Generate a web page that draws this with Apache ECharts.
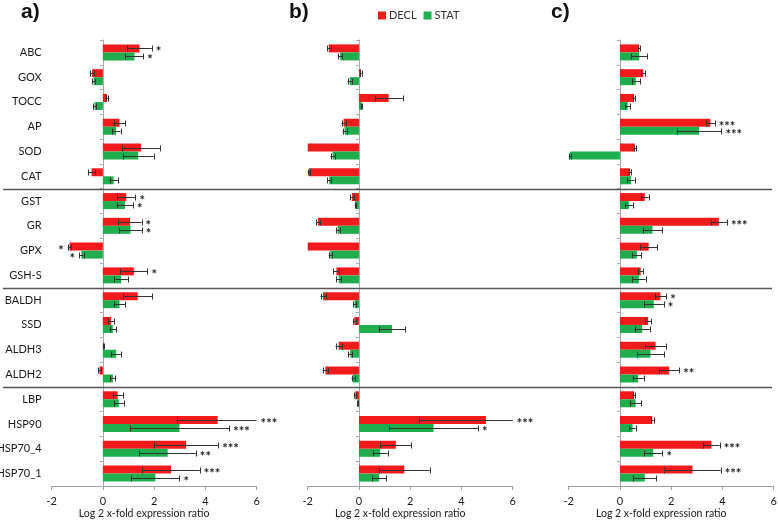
<!DOCTYPE html>
<html><head><meta charset="utf-8">
<script src="https://cdn.jsdelivr.net/npm/echarts@6/dist/echarts.min.js"></script>
<style>html,body{margin:0;padding:0;background:#fff}#c{width:778px;height:522px}</style>
</head><body><div id="c"></div>
<script>
const genes = ['ABC','GOX','TOCC','AP','SOD','CAT','GST','GR','GPX','GSH-S','BALDH','SSD','ALDH3','ALDH2','LBP','HSP90','HSP70_4','HSP70_1'];
const panelLabels = ['a)','b)','c)'];
const seriesNames = ['DECL','STAT'];
const axisTitle = 'Log 2 x-fold expression ratio';

// Panel a
const declA      = [1.43,-0.42,0.16,0.65,1.49,-0.44,0.91,1.06,-1.30,1.21,1.36,0.32,0.02,-0.13,0.58,4.48,3.25,2.66];
const declAErr   = [0.48,0.08,0.05,0.23,0.75,0.13,0.36,0.45,0.07,0.53,0.56,0.13,0.02,0.05,0.20,1.60,1.25,1.12];
const declAStars = ['*','','','','','','*','*','*','*','','','','','','***','***','***'];
const statA      = [1.23,-0.36,-0.32,0.52,1.38,0.42,0.86,1.08,-0.84,0.71,0.65,0.39,0.52,0.39,0.62,2.99,2.53,2.05];
const statAErr   = [0.35,0.05,0.07,0.17,0.60,0.16,0.32,0.44,0.09,0.27,0.23,0.13,0.19,0.10,0.20,1.94,1.10,0.94];
const statAStars = ['*','','','','','','*','*','*','','','','','','','***','**','*'];

// Panel b
const declB      = [-1.18,0.08,1.16,-0.60,-2.10,-1.95,-0.27,-1.60,-2.10,-0.88,-1.40,-0.18,-0.79,-1.31,-0.14,4.96,1.44,1.77];
const declBErr   = [0.07,0.03,0.55,0.08,0.10,0.05,0.06,0.07,0.10,0.12,0.10,0.05,0.12,0.10,0.04,2.60,0.60,0.99];
const declBStars = ['','','','','','','','','','','','','','','','***','',''];
const statB      = [-0.73,-0.36,0.10,-0.56,-1.03,-1.16,-0.14,-0.83,-1.12,-0.79,-0.17,1.29,-0.34,-0.23,-0.05,2.91,0.83,0.79];
const statBErr   = [0.08,0.08,0.03,0.08,0.08,0.08,0.03,0.08,0.06,0.10,0.05,0.52,0.07,0.06,0.02,1.74,0.30,0.27];
const statBStars = ['','','','','','','','','','','','','','','','*','',''];

// Panel c
const declC      = [0.75,0.91,0.55,3.53,0.58,0.39,0.97,3.86,1.12,0.81,1.58,1.10,1.39,1.92,0.55,1.26,3.57,2.83];
const declCErr   = [0.05,0.08,0.05,0.17,0.05,0.05,0.16,0.32,0.34,0.10,0.23,0.12,0.40,0.39,0.05,0.05,0.32,1.10];
const declCStars = ['','','','***','','','','***','','','*','','','**','','','***','***'];
const statC      = [0.75,0.62,0.30,3.09,-1.95,0.43,0.35,1.27,0.66,0.74,1.32,0.87,1.19,0.71,0.61,0.49,1.30,0.97];
const statCErr   = [0.31,0.16,0.10,0.87,0.05,0.14,0.17,0.38,0.18,0.26,0.39,0.30,0.52,0.22,0.23,0.12,0.36,0.45];
const statCStars = ['','','','***','','','','','','','*','','','','','','*',''];

const xMin = -2, xMax = 6, xStep = 2;
const RED = '#f21b1b', GREEN = '#20ad4e';
const FONT = 'Lato';
const BARW = 8;

const panels = [
  {decl: declA, declErr: declAErr, declStars: declAStars, stat: statA, statErr: statAErr, statStars: statAStars},
  {decl: declB, declErr: declBErr, declStars: declBStars, stat: statB, statErr: statBErr, statStars: statBStars},
  {decl: declC, declErr: declCErr, declStars: declCStars, stat: statC, statErr: statCErr, statStars: statCStars}
];
const gridLefts = [51.6, 307.7, 568.7];
const gridWidth = 205;

const chart = echarts.init(document.getElementById('c'), null, {renderer: 'canvas'});

function errSeries(k, vals, errs, stars, side) {
  return {
    type: 'custom', xAxisIndex: k, yAxisIndex: 2 * k, clip: false, silent: true, z: 5,
    data: vals.map((v, i) => [i, v, errs[i]]),
    encode: {x: 1, y: 0},
    renderItem(params, api) {
      const i = api.value(0), v = api.value(1), e = api.value(2);
      const off = side === 0 ? -BARW / 2 : BARW / 2;
      const y = Math.round(api.coord([0, i])[1] + off) + 0.5;
      const lo = v - e, hi = v + e;
      const loC = Math.max(lo, xMin), hiC = Math.min(hi, xMax);
      const children = [];
      const plo = api.coord([loC, i])[0], phi = api.coord([hiC, i])[0];
      const ls = {stroke: '#333', lineWidth: 1};
      if (hiC > loC) {
        children.push({type: 'line', shape: {x1: plo, y1: y, x2: phi, y2: y}, style: ls});
        if (lo >= xMin) children.push({type: 'line', shape: {x1: Math.round(plo) + 0.5, y1: y - 3, x2: Math.round(plo) + 0.5, y2: y + 3}, style: ls});
        if (hi <= xMax) children.push({type: 'line', shape: {x1: Math.round(phi) + 0.5, y1: y - 3, x2: Math.round(phi) + 0.5, y2: y + 3}, style: ls});
      }
      const st = stars[params.dataIndex];
      if (st) {
        const pos = v >= 0;
        children.push({type: 'text', x: pos ? phi + 4 : plo - 4, y: y + 3,
          style: {text: st, fill: '#222', font: 'bold 13px ' + FONT, align: pos ? 'left' : 'right', verticalAlign: 'middle'}});
      }
      return {type: 'group', children};
    }
  };
}

const grid = [], xAxis = [], yAxis = [], series = [], title = [];
panels.forEach((p, k) => {
  grid.push({left: gridLefts[k], width: gridWidth, top: 40, bottom: 36, containLabel: false, outerBoundsMode: 'none'});
  title.push({text: panelLabels[k], left: [21, 289, 551][k], top: 2, padding: 0,
    textStyle: {fontSize: 21, fontWeight: 'bold', color: '#111', fontFamily: 'Liberation Sans'}});
  xAxis.push({type: 'value', gridIndex: k, min: xMin, max: xMax, interval: xStep,
    axisLine: {show: true, onZero: false, lineStyle: {color: '#a0a0a0'}},
    axisTick: {show: true, length: 4, lineStyle: {color: '#a0a0a0'}},
    splitLine: {show: false},
    axisLabel: {fontSize: 11, color: '#1a1a1a', margin: 10, fontFamily: FONT},
    name: axisTitle, nameLocation: 'middle', nameGap: 22, nameMoveOverlap: false,
    nameTextStyle: {fontSize: 10.5, color: '#1a1a1a', fontFamily: FONT, padding: [0, 20, 0, 0]}});
  yAxis.push({type: 'category', gridIndex: k, data: genes, inverse: true, position: 'left',
    axisLine: {show: false, onZero: false}, axisTick: {show: false},
    axisLabel: {show: k === 0, fontSize: 11, color: '#1a1a1a', margin: 10, fontFamily: FONT}});
  yAxis.push({type: 'category', gridIndex: k, data: genes, inverse: true, position: 'left',
    axisLine: {show: true, onZero: true, lineStyle: {color: '#a8a8a8'}},
    axisTick: {show: true, length: 3, lineStyle: {color: '#a8a8a8'}},
    axisLabel: {show: false}});
  series.push({name: seriesNames[0], type: 'bar', xAxisIndex: k, yAxisIndex: 2 * k, data: p.decl,
    barWidth: BARW, barGap: '0%', itemStyle: {color: RED}, z: 2});
  series.push({name: seriesNames[1], type: 'bar', xAxisIndex: k, yAxisIndex: 2 * k, data: p.stat,
    barWidth: BARW, barGap: '0%', itemStyle: {color: GREEN}, z: 2});
  series.push(errSeries(k, p.decl, p.declErr, p.declStars, 0));
  series.push(errSeries(k, p.stat, p.statErr, p.statStars, 1));
});

chart.setOption({
  animation: false,
  backgroundColor: '#fff',
  title, grid, xAxis, yAxis, series,
  legend: {data: seriesNames, left: 373, top: 5, icon: 'rect', itemWidth: 8, itemHeight: 8, itemGap: 7,
    textStyle: {fontSize: 11, color: '#333', fontFamily: FONT, padding: [0, 0, 0, -2]}}
});

// group separator lines between gene groups
const breaks = [[5, 6], [9, 10], [13, 14]];
const graphic = breaks.map(([a, b]) => {
  const ya = chart.convertToPixel({yAxisIndex: 0}, genes[a]);
  const yb = chart.convertToPixel({yAxisIndex: 0}, genes[b]);
  const y = Math.round((ya + yb) / 2) + 0.5;
  return {type: 'line', shape: {x1: 3, y1: y, x2: 772, y2: y}, style: {stroke: '#555', lineWidth: 1.3}, z: 10};
});
chart.setOption({graphic});
</script>
</body></html>
